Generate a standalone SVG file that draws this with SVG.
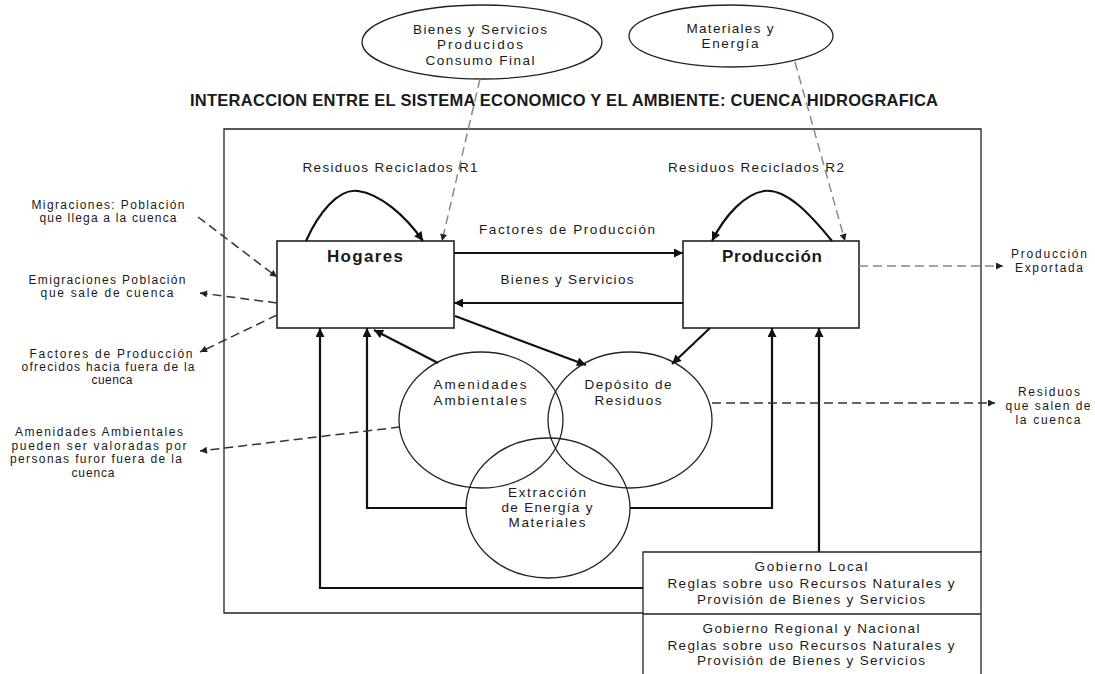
<svg xmlns="http://www.w3.org/2000/svg" width="1095" height="674" viewBox="0 0 1095 674">
<defs>
<marker id="ah" viewBox="0 0 10 10" refX="10" refY="5" markerWidth="10" markerHeight="9" markerUnits="userSpaceOnUse" orient="auto"><path d="M0,0 L10,5 L0,10 z" fill="#111"/></marker>
<marker id="ahg" viewBox="0 0 10 10" refX="10" refY="5" markerWidth="8" markerHeight="7" markerUnits="userSpaceOnUse" orient="auto"><path d="M0,0 L10,5 L0,10 z" fill="#222"/></marker>
<style>
text{font-family:"Liberation Sans",Arial,sans-serif;fill:#1a1a1a;text-anchor:middle}
.t{font-size:13.5px}
.s{font-size:12px}
.b{font-weight:bold;font-size:17px}
.title{font-weight:bold;font-size:16.5px;text-anchor:start}
.shape{fill:none;stroke:#222;stroke-width:1.3}
.box{fill:#fff;stroke:#222;stroke-width:1.6}
.sol{fill:none;stroke:#111;stroke-width:2.2;marker-end:url(#ah)}
.dash{fill:none;stroke:#333;stroke-width:1.5;stroke-dasharray:9 5;marker-end:url(#ahg)}
.dashg{fill:none;stroke:#888;stroke-width:1.5;stroke-dasharray:9 5;marker-end:url(#ahg)}
</style>
</defs>
<rect width="1095" height="674" fill="#fff"/>
<text class="title" x="190" y="106" textLength="748">INTERACCION ENTRE EL SISTEMA ECONOMICO Y EL AMBIENTE: CUENCA HIDROGRAFICA</text>
<path id="frame" class="shape" d="M643,613 H224 V129 H981 V552"/>
<g id="ellipse-bienes">
<ellipse class="shape" cx="482" cy="42" rx="120" ry="37"/>
<text class="t" x="480" y="34" textLength="134">Bienes y Servicios</text>
<text class="t" x="480" y="49" textLength="86">Producidos</text>
<text class="t" x="480" y="65" textLength="109">Consumo Final</text>
</g>
<g id="ellipse-materiales">
<ellipse class="shape" cx="731" cy="36" rx="102" ry="31"/>
<text class="t" x="730" y="33" textLength="87">Materiales y</text>
<text class="t" x="730" y="48" textLength="57">Energía</text>
</g>
<g id="hogares">
<rect class="box" x="277" y="241" width="177" height="87"/>
<text class="b" x="365" y="262" textLength="76">Hogares</text>
</g>
<g id="produccion">
<rect class="box" x="683" y="241" width="176" height="87"/>
<text class="b" x="772" y="262" textLength="100">Producción</text>
</g>
<g id="amenidades">
<ellipse class="shape" cx="481" cy="420" rx="82" ry="68"/>
<text class="t" x="480" y="389" textLength="93">Amenidades</text>
<text class="t" x="480" y="405" textLength="93">Ambientales</text>
</g>
<g id="deposito">
<ellipse class="shape" cx="630" cy="420" rx="82" ry="68"/>
<text class="t" x="628" y="389" textLength="87">Depósito de</text>
<text class="t" x="628" y="405" textLength="67">Residuos</text>
</g>
<g id="extraccion">
<ellipse class="shape" cx="548" cy="508" rx="82" ry="70"/>
<text class="t" x="547" y="497" textLength="78">Extracción</text>
<text class="t" x="547" y="512" textLength="91">de Energía y</text>
<text class="t" x="547" y="527" textLength="77">Materiales</text>
</g>
<g id="gobierno">
<path class="shape" d="M643,680 V552 H981 V680 M643,614 H981"/>
<text class="t" x="811" y="571" textLength="113">Gobierno Local</text>
<text class="t" x="811" y="588" textLength="287">Reglas sobre uso Recursos Naturales y</text>
<text class="t" x="811" y="604" textLength="228">Provisión de Bienes y Servicios</text>
<text class="t" x="811" y="633" textLength="217">Gobierno Regional y Nacional</text>
<text class="t" x="811" y="650" textLength="287">Reglas sobre uso Recursos Naturales y</text>
<text class="t" x="811" y="665" textLength="228">Provisión de Bienes y Servicios</text>
</g>
<g id="labels">
<text class="t" x="390" y="172" textLength="175">Residuos Reciclados R1</text>
<text class="t" x="756" y="172" textLength="176">Residuos Reciclados R2</text>
<text class="t" x="567" y="234" textLength="176">Factores de Producción</text>
<text class="t" x="567" y="284" textLength="133">Bienes y Servicios</text>
<text class="s" x="1049" y="258" textLength="76">Producción</text>
<text class="s" x="1049" y="272" textLength="68">Exportada</text>
<text class="s" x="1049" y="396" textLength="62">Residuos</text>
<text class="s" x="1048" y="410" textLength="85">que salen de</text>
<text class="s" x="1048" y="424" textLength="65">la cuenca</text>
<text class="s" x="108" y="209" textLength="153">Migraciones: Población</text>
<text class="s" x="108" y="222" textLength="137">que llega a la cuenca</text>
<text class="s" x="107" y="284" textLength="157">Emigraciones Población</text>
<text class="s" x="107" y="297" textLength="133">que sale de cuenca</text>
<text class="s" x="111" y="358" textLength="163">Factores de Producción</text>
<text class="s" x="108" y="371" textLength="173">ofrecidos hacia fuera de la</text>
<text class="s" x="112" y="384" textLength="41">cuenca</text>
<text class="s" x="99" y="436" textLength="168">Amenidades Ambientales</text>
<text class="s" x="99" y="450" textLength="175">pueden ser  valoradas por</text>
<text class="s" x="96" y="463" textLength="172">personas furor fuera de la</text>
<text class="s" x="93" y="477" textLength="43">cuenca</text>
</g>
<g id="connectors">
<path class="sol" d="M306,241 C318,214 338,188 358,191 C380,194 405,215 423,241"/>
<path class="sol" d="M832,241 C810,214 786,188 764,191 C745,194 725,215 712,241"/>
<path class="sol" d="M454,253 H683"/>
<path class="sol" d="M683,303 H454"/>
<path class="sol" d="M438,363 L374,330"/>
<path class="sol" d="M455,316 L586,365"/>
<path class="sol" d="M710,328 L672,364"/>
<path class="sol" d="M467,508 H367 V328"/>
<path class="sol" d="M643,588 H320 V328"/>
<path class="sol" d="M630,508 H772 V328"/>
<path class="sol" d="M819,552 V328"/>
<path class="dashg" d="M480,79 L442,241"/>
<path class="dashg" d="M795,62 L845,241"/>
<path class="dashg" d="M859,266 H1003"/>
<path class="dash" d="M712,403 H995"/>
<path class="dash" d="M198,217 L277,277"/>
<path class="dash" d="M277,303 L200,293"/>
<path class="dash" d="M277,315 L200,352"/>
<path class="dash" d="M400,427 L200,451"/>
</g>
</svg>
